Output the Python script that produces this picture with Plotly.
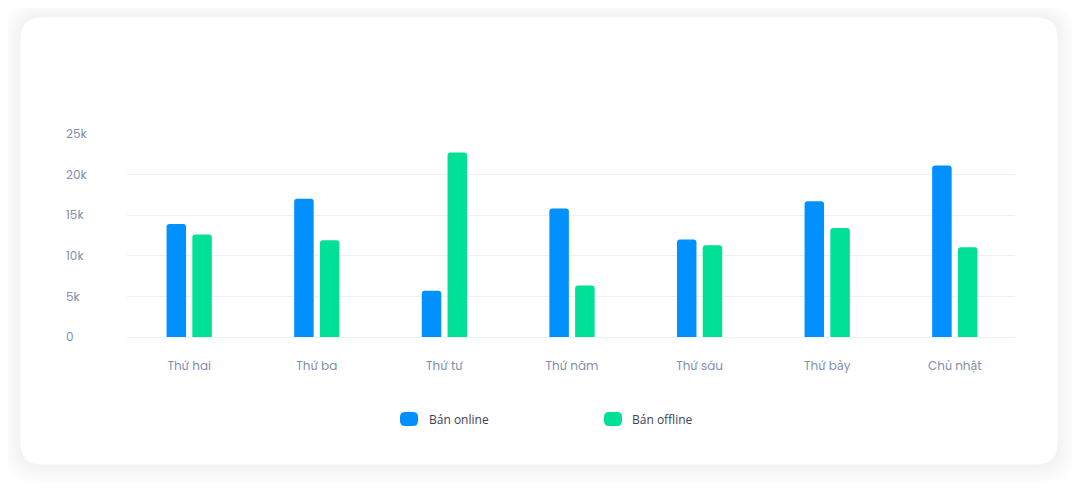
import plotly.graph_objects as go

days = ["Thứ hai", "Thứ ba", "Thứ tư", "Thứ năm", "Thứ sáu", "Thứ bảy", "Chủ nhật"]
online = [13900, 17000, 5700, 15800, 12000, 16700, 21100]
offline = [12600, 11900, 22700, 6350, 11300, 13400, 11050]
series_names = ["Bán online", "Bán offline"]
colors = ["#0090FF", "#00E096"]
y_ticks = [0, 5000, 10000, 15000, 20000, 25000]

# page body has an 8px margin; work in window pixels and convert
OFF = 8
W, H = 1080 - OFF, 490 - OFF
L, R, T, B = 65 - OFF, 1080 - 1015, 133 - OFF, 153
pw, ph = W - L - R, H - T - B
grid_x0 = 127.0
cat_px = 127.6
first_center = 189.2
x_start = -(first_center - grid_x0) / cat_px
x_end = x_start + (1015 - grid_x0) / cat_px


def px(x):
    return (x - OFF - L) / pw


def py(y):
    return (T + ph - (y - OFF)) / ph


def rrect(x0, y0, x1, y1, r):
    X0, X1 = px(x0), px(x1)
    Y0, Y1 = py(y0), py(y1)
    rx, ry = r / pw, r / ph
    return (f"M {X0+rx},{Y0} L {X1-rx},{Y0} Q {X1},{Y0} {X1},{Y0-ry} "
            f"L {X1},{Y1+ry} Q {X1},{Y1} {X1-rx},{Y1} L {X0+rx},{Y1} "
            f"Q {X0},{Y1} {X0},{Y1+ry} L {X0},{Y0-ry} Q {X0},{Y0} {X0+rx},{Y0} Z")


fig = go.Figure()
for name, vals, c in zip(series_names, [online, offline], colors):
    fig.add_trace(go.Bar(x=days, y=vals, name=name,
                         marker=dict(color=c, cornerradius=3, line=dict(width=0)),
                         showlegend=False))

shapes = []
# soft shadow around the card
for i in range(12, 0, -1):
    shapes.append(dict(type="path", xref="paper", yref="paper", layer="below",
                       path=rrect(20 - i * 1.5, 17 - i * 1.3, 1058 + i * 1.5, 465 + i * 1.6, 22 + i),
                       fillcolor="rgba(0,0,0,0.003)", line=dict(width=0)))
shapes.append(dict(type="path", xref="paper", yref="paper", layer="below",
                   path=rrect(20, 17, 1058, 465, 22), fillcolor="#FFFFFF",
                   line=dict(color="#F4F4F4", width=1)))

annotations = []
for (mx, tx), name, c in zip([(400, 427), (604, 630)], series_names, colors):
    shapes.append(dict(type="path", xref="paper", yref="paper",
                       path=rrect(mx, 412, mx + 18, 426, 5), fillcolor=c, line=dict(width=0)))
    annotations.append(dict(xref="paper", yref="paper", x=px(tx), y=py(419), text=name,
                            showarrow=False, xanchor="left", yanchor="middle",
                            font=dict(family="Open Sans", size=12, color="#3A4257")))

fig.update_layout(
    width=W, height=H,
    margin=dict(l=L, r=R, t=T, b=B, pad=0),
    paper_bgcolor="#FFFFFF", plot_bgcolor="rgba(0,0,0,0)",
    barmode="group", bargap=0.596, bargroupgap=0.244,
    shapes=shapes, annotations=annotations,
    xaxis=dict(domain=[px(grid_x0), 1], range=[x_start, x_end],
               showgrid=False, zeroline=False, showline=False,
               ticks="", ticklabelstandoff=20,
               tickfont=dict(family="Poppins, Inter", size=12, color="#8190AE")),
    yaxis=dict(range=[0, 25100], tickvals=y_ticks,
               ticktext=["0", "5k", "10k", "15k", "20k", "25k"],
               side="right", anchor="free", position=0,
               showgrid=True, gridcolor="#EDEFF2", gridwidth=1,
               zeroline=True, zerolinecolor="#EDEFF2", zerolinewidth=1,
               showline=False, ticks="",
               tickfont=dict(family="Poppins, Inter", size=12, color="#8190AE")),
    showlegend=False,
)

fig.write_html("out.html")
